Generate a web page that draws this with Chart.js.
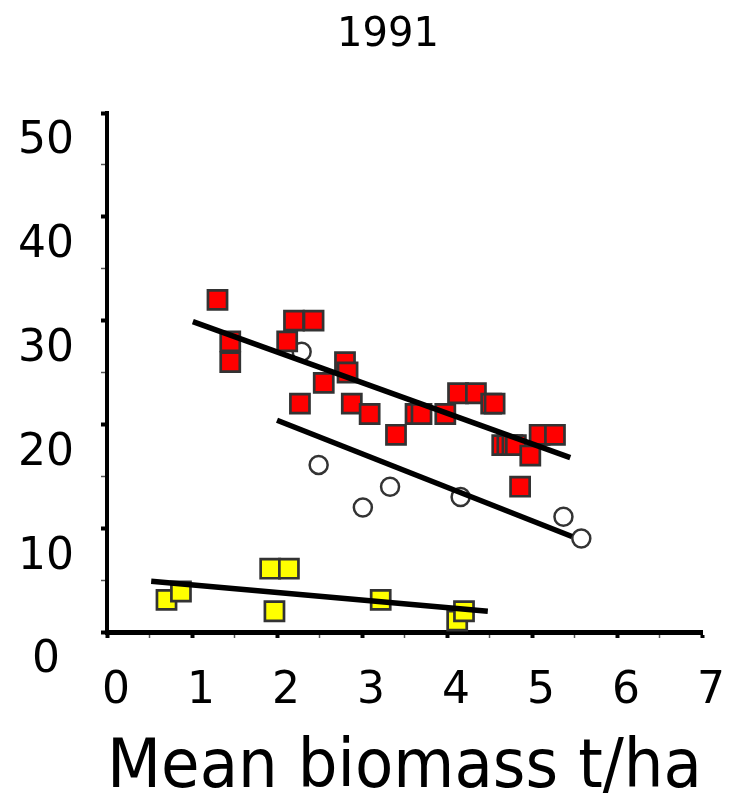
<!DOCTYPE html>
<html><head><meta charset="utf-8">
<script src="https://cdn.jsdelivr.net/npm/chart.js@4/dist/chart.umd.min.js"></script>
<style>html,body{margin:0;padding:0;background:#fff}</style>
</head><body>
<canvas id="c" width="743" height="806"></canvas>
<script>
const titleText = '1991';
const xAxisTitle = 'Mean biomass t/ha';
const xTickLabels = ['0','1','2','3','4','5','6','7'];
const yTickLabels = ['0','10','20','30','40','50'];

// red squares
const redX = [1.3, 1.45, 1.45, 2.2, 2.43, 2.12, 2.27, 2.55, 2.8, 2.83, 2.88, 3.09, 3.4, 3.63, 3.7, 3.98, 4.13, 4.34, 4.52, 4.56, 4.65, 4.71, 4.77, 4.81, 4.98, 5.09, 5.27, 4.86];
const redY = [32, 26, 28, 30, 30, 28, 22, 24, 26, 25, 22, 21, 19, 21, 21, 21, 23, 23, 22, 22, 18, 18, 18, 18, 17, 19, 19, 14];
// open circles
const circX = [2.29, 2.49, 3.01, 3.33, 4.16, 5.37, 5.58];
const circY = [27.0, 16.1, 12.0, 14.0, 13.0, 11.1, 9.0];
// yellow squares
const yelX = [0.70, 0.87, 1.92, 2.14, 1.97, 3.22, 4.12, 4.20];
const yelY = [3.1, 3.9, 6.1, 6.1, 2.0, 3.1, 1.1, 2.0];
// fitted lines (start, end)
const redFitX = [1.01, 5.45];
const redFitY = [29.9, 16.8];
const circFitX = [2.0, 5.47];
const circFitY = [20.4, 9.2];
const yelFitX = [0.52, 4.48];
const yelFitY = [4.9, 2.0];

const pts = (xs, ys) => xs.map((x, i) => ({x: x, y: ys[i]}));
const FONT = 'DejaVu Sans';

const lineDs = (xs, ys) => ({
  type: 'line', data: pts(xs, ys), borderColor: '#000', borderWidth: 5.5,
  pointRadius: 0, fill: false, order: 0, clip: false, borderCapStyle: 'butt'
});

const titlePlugin = {
  id: 'topTitle',
  afterDraw(chart) {
    const ctx = chart.ctx;
    ctx.save();
    ctx.fillStyle = '#000';
    ctx.font = '40px "' + FONT + '"';
    ctx.textAlign = 'center';
    ctx.textBaseline = 'middle';
    ctx.fillText(titleText, 388, 36);
    ctx.restore();
  }
};

new Chart(document.getElementById('c'), {
  type: 'scatter',
  data: {
    datasets: [
      lineDs(redFitX, redFitY),
      lineDs(circFitX, circFitY),
      lineDs(yelFitX, yelFitY),
      {data: pts(redX, redY), pointStyle: 'rect', pointRadius: 13.5, backgroundColor: '#ff0000', borderColor: '#333333', borderWidth: 2.7, order: 1, clip: false},
      {data: pts(yelX, yelY), pointStyle: 'rect', pointRadius: 13.5, backgroundColor: '#ffff00', borderColor: '#333333', borderWidth: 2.7, order: 2, clip: false},
      {data: pts(circX, circY), pointStyle: 'circle', pointRadius: 9, backgroundColor: '#ffffff', borderColor: '#333333', borderWidth: 2.5, order: 3, clip: false}
    ]
  },
  options: {
    responsive: false, animation: false, devicePixelRatio: 1,
    layout: {padding: {left: 0, right: 33, top: 113, bottom: 0}},
    plugins: {
      legend: {display: false}, tooltip: {enabled: false}, title: {display: false}
    },
    scales: {
      x: {
        type: 'linear', min: 0, max: 7,
        ticks: {stepSize: 0.5, color: '#000', padding: 27, labelOffset: 9, maxRotation: 0, autoSkip: false,
          font: {family: FONT, size: 44, lineHeight: 1.2},
          callback: (v) => Number.isInteger(v) ? xTickLabels[v] : ''},
        grid: {drawOnChartArea: false, drawTicks: true, tickLength: 6,
          tickColor: (c) => Number.isInteger(c.tick.value) ? '#000' : '#555',
          tickWidth: (c) => Number.isInteger(c.tick.value) ? 4 : 1.5},
        border: {display: true, color: '#000', width: 5},
        title: {display: true, text: xAxisTitle, color: '#000',
          font: {family: FONT, size: 67, lineHeight: 1.1}, padding: 0},
        afterFit: (s) => { s.height = 174; }
      },
      y: {
        type: 'linear', min: 0, max: 50,
        ticks: {stepSize: 5, color: '#000', padding: 27, labelOffset: 29, crossAlign: 'center', autoSkip: false,
          font: {family: FONT, size: 44, lineHeight: 1.2},
          callback: (v) => (v % 10 === 0) ? yTickLabels[v / 10] : ''},
        grid: {drawOnChartArea: false, drawTicks: true, tickLength: 6,
          tickColor: (c) => c.tick.value % 10 === 0 ? '#000' : '#555',
          tickWidth: (c) => c.tick.value % 10 === 0 ? 4 : 1.5},
        border: {display: true, color: '#000', width: 4},
        afterFit: (s) => { s.width = 107; }
      }
    }
  },
  plugins: [titlePlugin]
});
</script>
</body></html>
